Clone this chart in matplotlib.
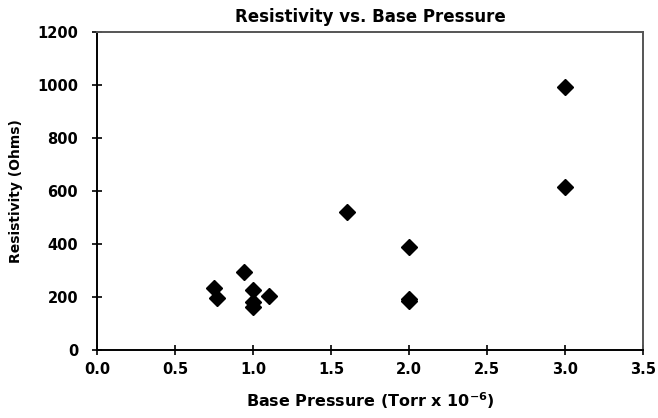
import matplotlib
matplotlib.use('Agg')
import matplotlib.pyplot as plt

# Data
base_pressure = [0.75, 0.77, 0.94, 1.0, 1.1, 1.0, 1.0, 1.6, 2.0, 2.0, 2.0, 3.0, 3.0]
resistivity = [235, 195, 293, 225, 203, 182, 163, 522, 388, 193, 185, 993, 614]

x_ticks = [0.0, 0.5, 1.0, 1.5, 2.0, 2.5, 3.0, 3.5]
y_ticks = [0, 200, 400, 600, 800, 1000, 1200]

plt.rcParams['font.family'] = ['DejaVu Sans']
plt.rcParams['font.weight'] = 'bold'
plt.rcParams['mathtext.default'] = 'bf'

fig = plt.figure(figsize=(6.58, 4.18), dpi=100)
ax = fig.add_axes([0.1474, 0.1627, 0.8296, 0.7607])

ax.plot(base_pressure, resistivity, linestyle='none', marker='D',
        markersize=8.5, color='black')

ax.set_xlim(0, 3.5)
ax.set_ylim(0, 1200)
ax.set_xticks(x_ticks)
ax.set_xticklabels(['%.1f' % v for v in x_ticks])
ax.set_yticks(y_ticks)
ax.tick_params(direction='inout', length=7, width=1.2, labelsize=10.5,
               colors='black')
ax.tick_params(axis='x', pad=5)
ax.tick_params(axis='y', pad=10)

for side in ['left', 'bottom']:
    ax.spines[side].set_linewidth(1.4)
for side in ['top', 'right']:
    ax.spines[side].set_linewidth(1.4)
    ax.spines[side].set_color('#555555')

ax.set_title('Resistivity vs. Base Pressure', fontsize=12, fontweight='bold', pad=7)
ax.set_xlabel('Base Pressure (Torr x 10$^{-6}$)', fontsize=11.5,
              fontweight='bold', labelpad=10)
ax.set_ylabel('Resistivity (Ohms)', fontsize=10, fontweight='bold', labelpad=10)

fig.savefig('out.png', dpi=100)
